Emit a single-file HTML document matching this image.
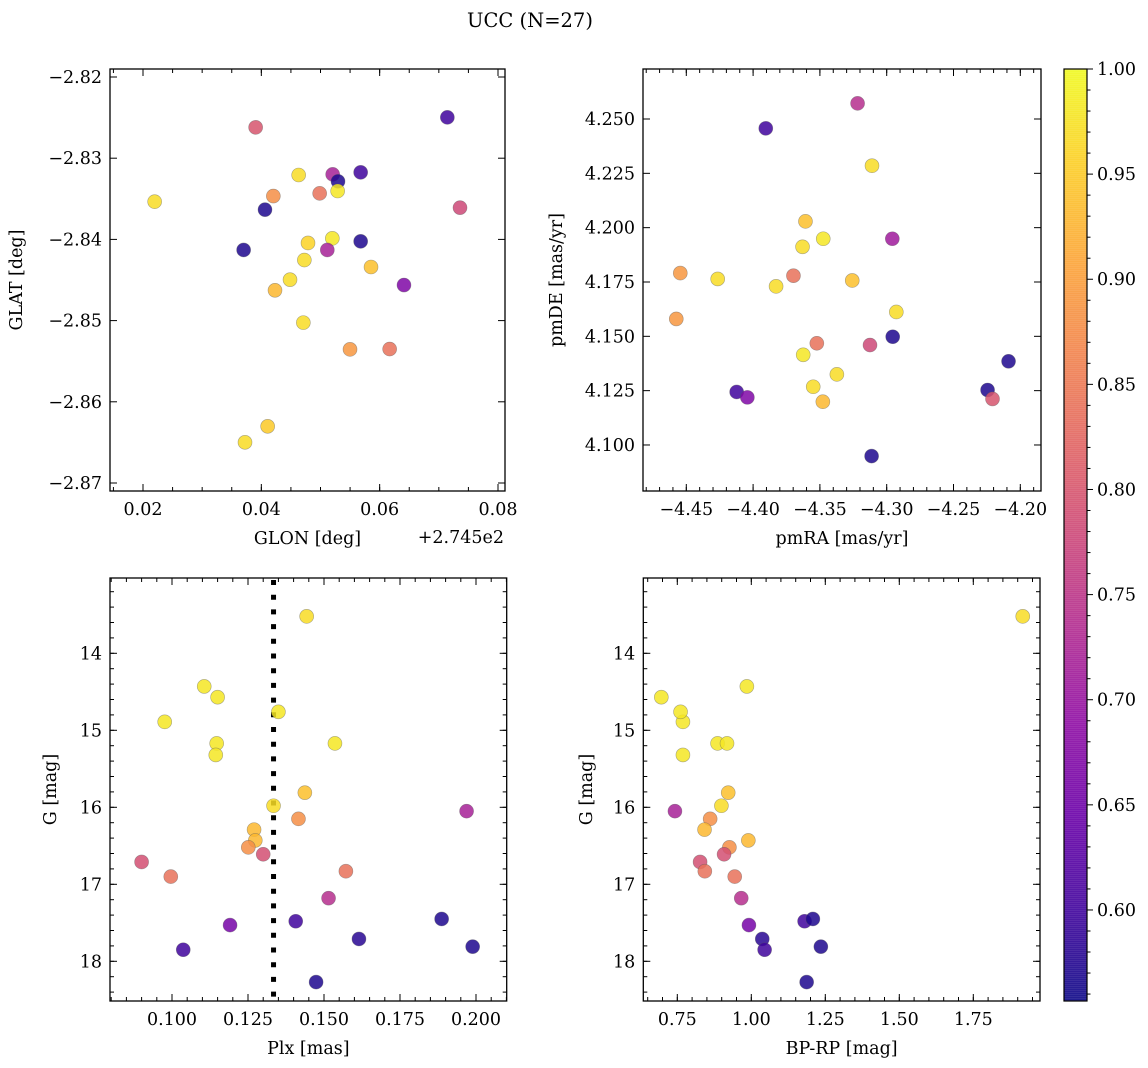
<!DOCTYPE html>
<html><head><meta charset="utf-8"><style>
html,body{margin:0;padding:0;background:#fff;}
svg{display:block;font-family:"DejaVu Serif","Liberation Serif",serif;}
</style></head><body>
<svg id="fig" width="1148" height="1068" viewBox="0 0 1148 1068" xmlns="http://www.w3.org/2000/svg">
<text x="530" y="27" font-size="19.5" text-anchor="middle">UCC (N=27)</text>
</svg>
<script>
// ---- data ----
const tlGlon = [0.02197,0.03904,0.03701,0.04062,0.04203,0.04631,0.05206,0.05296,0.0529,0.04986,0.05679,0.07144,0.07358,0.04789,0.052,0.05679,0.05115,0.04727,0.04485,0.04231,0.05854,0.06411,0.0471,0.05499,0.06169,0.04107,0.03724];
const tlGlat = [-2.83535,-2.8262,-2.8413,-2.83634,-2.83466,-2.83207,-2.83199,-2.83285,-2.83404,-2.83433,-2.83174,-2.82497,-2.83609,-2.84044,-2.83987,-2.84024,-2.8413,-2.84254,-2.84496,-2.84627,-2.8434,-2.84562,-2.85025,-2.85354,-2.8535,-2.86302,-2.86499];
const tlProb = [0.97,0.80,0.57,0.57,0.88,0.97,0.72,0.57,0.98,0.84,0.60,0.60,0.78,0.96,0.98,0.57,0.72,0.97,0.97,0.93,0.94,0.67,0.97,0.89,0.84,0.95,0.97];
const trPmra = [-4.3905,-4.3218,-4.311,-4.3608,-4.3475,-4.363,-4.2958,-4.4545,-4.4265,-4.3698,-4.3258,-4.3828,-4.2928,-4.4575,-4.2955,-4.3523,-4.3125,-4.3625,-4.2088,-4.3373,-4.355,-4.4123,-4.4043,-4.2245,-4.2208,-4.3478,-4.3113];
const trPmde = [4.2457,4.2572,4.2285,4.2029,4.1949,4.1912,4.1949,4.1791,4.1764,4.1779,4.1757,4.173,4.1612,4.158,4.1498,4.1468,4.146,4.1415,4.1385,4.1325,4.1268,4.1244,4.1219,4.1253,4.1212,4.1199,4.0949];
const trProb = [0.60,0.74,0.97,0.94,0.98,0.97,0.71,0.89,0.97,0.84,0.94,0.97,0.97,0.89,0.57,0.84,0.78,0.98,0.57,0.97,0.97,0.60,0.67,0.57,0.80,0.93,0.57];
const starPlx = [0.1443,0.1106,0.1150,0.0976,0.1350,0.1147,0.1144,0.1536,0.1437,0.1334,0.1969,0.1416,0.1270,0.1274,0.1251,0.1300,0.0900,0.0996,0.1572,0.1515,0.1191,0.1407,0.1887,0.1615,0.1037,0.1989,0.1474];
const starG   = [13.52,14.43,14.57,14.89,14.76,15.17,15.32,15.17,15.81,15.98,16.05,16.15,16.29,16.43,16.52,16.61,16.71,16.90,16.83,17.18,17.53,17.48,17.45,17.71,17.85,17.81,18.27];
const starBprp= [1.917,0.985,0.696,0.769,0.761,0.886,0.769,0.918,0.922,0.899,0.742,0.861,0.842,0.990,0.926,0.908,0.827,0.944,0.843,0.966,0.992,1.180,1.208,1.037,1.045,1.235,1.187];
const starProb= [0.97,0.98,0.98,0.98,0.98,0.98,0.98,0.98,0.94,0.97,0.72,0.88,0.93,0.93,0.88,0.79,0.79,0.84,0.84,0.74,0.66,0.60,0.57,0.58,0.60,0.57,0.57];
const plxLine = 0.1334;
const cbTicks = [0.60,0.65,0.70,0.75,0.80,0.85,0.90,0.95,1.00];
const vmin = 0.5567, vmax = 1.0;

const NS = "http://www.w3.org/2000/svg";
const FS = 17.5;
const svg = document.getElementById('fig');
function mk(tag, attrs, parent){const e=document.createElementNS(NS,tag);for(const k in attrs)e.setAttribute(k,attrs[k]);(parent||svg).appendChild(e);return e;}
const stops=[[13,8,135],[65,4,157],[106,0,168],[143,13,164],[177,42,144],[204,71,120],[225,100,98],[242,132,75],[252,166,54],[252,206,37],[240,249,33]];
function plasma(t){t=Math.max(0,Math.min(1,t))*10;const i=Math.min(9,Math.floor(t)),f=t-i;const a=stops[i],b=stops[i+1];return `rgb(${Math.round(a[0]+(b[0]-a[0])*f)},${Math.round(a[1]+(b[1]-a[1])*f)},${Math.round(a[2]+(b[2]-a[2])*f)})`;}
function cmap(v){return plasma((v-vmin)/(vmax-vmin));}
function fmt(v,d){const s=v.toFixed(d);return s.replace('-','\u2212');}

function panel(o){
  const g=mk('g',{});
  
  
  const sx=v=>o.x0+(v-o.xa)/(o.xb-o.xa)*(o.x1-o.x0);
  const sy=v=>o.y0+(v-o.ya)/(o.yb-o.ya)*(o.y1-o.y0);
  const tg=mk('g',{stroke:'#000','stroke-width':1},g);
  for(let i=0;i<o.xt.length;i++){
    const X=sx(o.xt[i]);
    mk('line',{x1:X,x2:X,y1:o.y1,y2:o.y1-7},tg);mk('line',{x1:X,x2:X,y1:o.y0,y2:o.y0+7},tg);
    const t=mk('text',{x:X,y:o.y1+24,'font-size':FS,'text-anchor':'middle',stroke:'none'},g);
    t.textContent=fmt(o.xt[i],o.xd);
    
    
  }
  const xs=(o.xt[1]-o.xt[0])/o.xm;
  for(let v=o.xt[0]-10*xs;v<=o.xb;v+=xs){if(v<o.xa)continue;const X=sx(v);mk('line',{x1:X,x2:X,y1:o.y1,y2:o.y1-4},tg);mk('line',{x1:X,x2:X,y1:o.y0,y2:o.y0+4},tg);}
  for(let i=0;i<o.yt.length;i++){
    const Y=sy(o.yt[i]);
    mk('line',{x1:o.x0,x2:o.x0+7,y1:Y,y2:Y},tg);mk('line',{x1:o.x1,x2:o.x1-7,y1:Y,y2:Y},tg);
    const t=mk('text',{x:o.x0-8,y:Y+6,'font-size':FS,'text-anchor':'end'},g);
    t.textContent=fmt(o.yt[i],o.yd);
    
    
  }
  const ys=(o.yt[1]-o.yt[0])/o.ym;
  const lo=Math.min(o.ya,o.yb),hi=Math.max(o.ya,o.yb);
  for(let v=o.yt[0]-10*ys;v<=hi+1e-9;v+=ys){if(v<lo)continue;const Y=sy(v);mk('line',{x1:o.x0,x2:o.x0+4,y1:Y,y2:Y},tg);mk('line',{x1:o.x1,x2:o.x1-4,y1:Y,y2:Y},tg);}
  if(o.vline!==undefined){const X=sx(o.vline);const l=mk('line',{x1:X,x2:X,y1:o.y0+2,y2:o.y1,stroke:'#000','stroke-width':5,'stroke-dasharray':'5 9.7'},g);
    
    }
  for(let i=0;i<o.xs.length;i++){
    const c=mk('circle',{cx:sx(o.xs[i]),cy:sy(o.ys[i]),r:7,fill:cmap(o.cs[i]),'fill-opacity':0.85,stroke:'rgba(90,90,90,0.5)','stroke-width':0.6},g);
    
    
  }
  const fr=mk('rect',{x:o.x0,y:o.y0,width:o.x1-o.x0,height:o.y1-o.y0,fill:'none',stroke:'#000','stroke-width':1.3},g);
  
  
  const xl=mk('text',{x:(o.x0+o.x1)/2,y:o.y1+53,'font-size':FS,'text-anchor':'middle'},g);xl.textContent=o.xlab;
  
  
  const yc=(o.y0+o.y1)/2;
  const yl=mk('text',{x:o.ylx,y:yc,'font-size':FS,'text-anchor':'middle',transform:`rotate(-90 ${o.ylx} ${yc})`},g);yl.textContent=o.ylab;
  
  
}
// TL
panel({name:'glon-glat-panel',x0:110,x1:505,y0:69,y1:491,xa:0.02-33*0.02/118.33,xb:0.02+362*0.02/118.33,ya:-2.82+8/8120,yb:-2.82-414/8120,
  xt:[0.02,0.04,0.06,0.08],xd:2,xm:4,yt:[-2.82,-2.83,-2.84,-2.85,-2.86,-2.87],yd:2,ym:5,xs:tlGlon,ys:tlGlat,cs:tlProb,xlab:'GLON [deg]',ylab:'GLAT [deg]',ylx:22});
const off=mk('text',{x:504,y:543,'font-size':FS,'text-anchor':'end'});off.textContent='+2.745e2';


// TR
panel({name:'pm-panel',x0:643,x1:1041,y0:69,y1:491,xa:-4.45-43.3*0.05/66.8,xb:-4.45+354.7*0.05/66.8,ya:4.25+50*0.025/54.33,yb:4.25-372*0.025/54.33,
  xt:[-4.45,-4.40,-4.35,-4.30,-4.25,-4.20],xd:2,xm:5,yt:[4.25,4.225,4.2,4.175,4.15,4.125,4.1],yd:3,ym:5,xs:trPmra,ys:trPmde,cs:trProb,xlab:'pmRA [mas/yr]',ylab:'pmDE [mas/yr]',ylx:562});
// BL
panel({name:'plx-g-panel',x0:110,x1:506.7,y0:578,y1:1001,xa:0.1-62*0.025/76,xb:0.1+334.7*0.025/76,ya:14-75.3/77,yb:14+347.7/77,
  xt:[0.1,0.125,0.15,0.175,0.2],xd:3,xm:5,yt:[14,15,16,17,18],yd:0,ym:5,xs:starPlx,ys:starG,cs:starProb,xlab:'Plx [mas]',ylab:'G [mag]',ylx:56,vline:plxLine});
// BR
panel({name:'cmd-panel',x0:643.3,x1:1040,y0:578,y1:1001,xa:0.75-34*0.25/74,xb:0.75+362.7*0.25/74,ya:14-75.3/77,yb:14+347.7/77,
  xt:[0.75,1.0,1.25,1.5,1.75],xd:2,xm:5,yt:[14,15,16,17,18],yd:0,ym:5,xs:starBprp,ys:starG,cs:starProb,xlab:'BP-RP [mag]',ylab:'G [mag]',ylx:592});
// colorbar
const cb=mk('g',{});


const CX0=1064,CX1=1087,CY0=69,CY1=1001;
for(let y=CY0;y<CY1;y+=2){const v=vmax-(y-CY0)/(CY1-CY0)*(vmax-vmin);mk('rect',{x:CX0,y:y,width:CX1-CX0,height:2.5,fill:cmap(v),'fill-opacity':0.85},cb);}
const cy=v=>CY0+(vmax-v)/(vmax-vmin)*(CY1-CY0);
for(let v=0.56;v<=1.0001;v+=0.01){const Y=cy(v);const major=Math.abs(Math.round(v*20)-v*20)<1e-6;mk('line',{x1:CX1,x2:CX1+(major?6:3.5),y1:Y,y2:Y,stroke:'#000'},cb);}
for(const v of cbTicks){const t=mk('text',{x:CX1+10,y:cy(v)+6,'font-size':FS},cb);t.textContent=v.toFixed(2);
  
  }
mk('rect',{x:CX0,y:CY0,width:CX1-CX0,height:CY1-CY0,fill:'none',stroke:'#000','stroke-width':1.2},cb);
</script>
</body></html>
